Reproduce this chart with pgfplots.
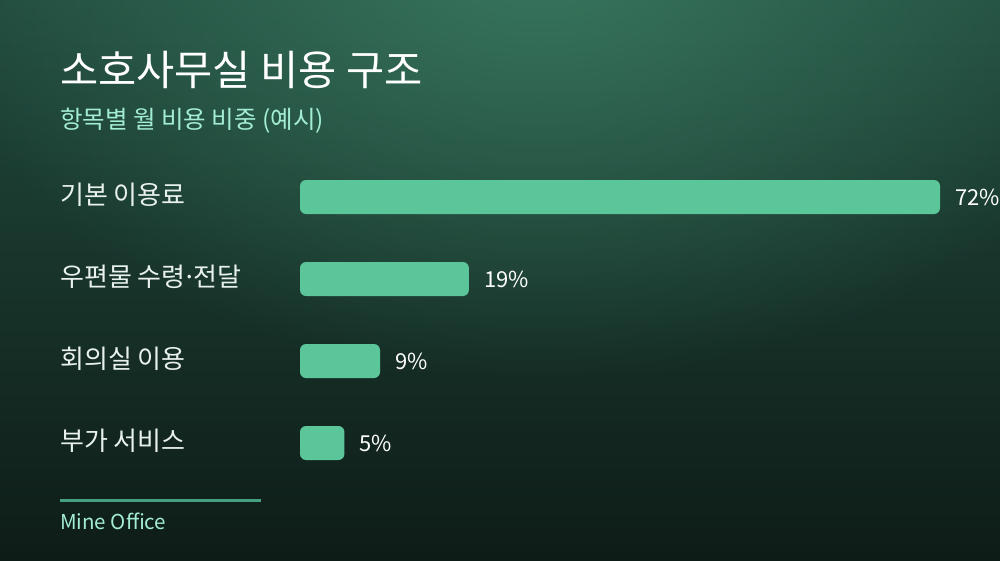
\documentclass[border=0pt]{standalone}
\usepackage{fontspec}
\setmainfont{Noto Sans CJK KR}
\usepackage{pgfplots}
\pgfplotsset{compat=1.18}
\usetikzlibrary{fadings}

\definecolor{bgtop}{HTML}{214A3D}
\definecolor{bgbot}{HTML}{0E1C17}
\definecolor{glow}{HTML}{3A7A61}
\definecolor{barc}{HTML}{5BC69A}
\definecolor{subc}{HTML}{A3EDD4}
\definecolor{linec}{HTML}{44A07F}
\definecolor{labc}{HTML}{E9F1ED}

\tikzfading[name=glowfade, inner color=transparent!0, outer color=transparent!100]

\begin{document}
\begin{tikzpicture}[x=1pt,y=1pt]
% background
\useasboundingbox (0,0) rectangle (1000,560);
\shade[top color=bgtop, bottom color=bgbot] (0,0) rectangle (1000,560);
\begin{scope}
\clip (0,0) rectangle (1000,560);
\fill[glow, path fading=glowfade, opacity=0.9] (540,600) ellipse [x radius=620, y radius=420];
\end{scope}

% titles
\node[anchor=base west, inner sep=0, text=white, font=\fontsize{41.5}{48}\selectfont] at (60,474) {소호사무실 비용 구조};
\node[anchor=base west, inner sep=0, text=subc, font=\fontsize{24.5}{28}\selectfont] at (60,431) {항목별 월 비용 비중 (예시)};

\begin{axis}[
    at={(300pt,76pt)}, anchor=south west,
    scale only axis,
    width=640pt, height=328pt,
    xbar,
    bar width=34pt,
    xmin=0, xmax=72,
    ymin=-0.5, ymax=3.5,
    y dir=reverse,
    clip=false,
    axis line style={draw=none},
    major tick length=0pt,
    xtick=\empty,
    ytick={0,1,2,3},
    yticklabels={기본 이용료, 우편물 수령\kern-0.12em·\kern-0.12em전달, 회의실 이용, 부가 서비스},
    yticklabel style={anchor=west, inner sep=0pt, xshift=-240pt, yshift=2pt, text=labc,
        font=\fontsize{26}{30}\selectfont},
    nodes near coords={\pgfmathprintnumber{\pgfplotspointmeta}\%},
    nodes near coords style={anchor=west, inner sep=0pt, xshift=15pt, text=white,
        font=\fontsize{22}{26}\selectfont},
    /pgf/number format/assume math mode=true,
]
\addplot[fill=barc, draw=none, rounded corners=6pt] coordinates {
    (72,0)
    (19,1)
    (9,2)
    (5,3)
};
\end{axis}

% footer
\draw[linec, line width=3pt] (60,60) -- (261,60);
\node[anchor=base west, inner sep=0, text=subc, font=\fontsize{20.5}{24}\selectfont] at (60,31) {Mine Office};
\end{tikzpicture}
\end{document}
